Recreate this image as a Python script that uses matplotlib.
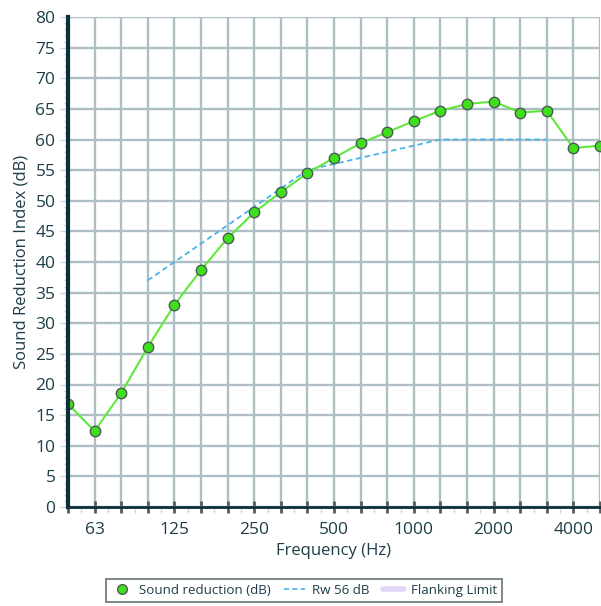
import matplotlib
matplotlib.use("Agg")
import matplotlib.pyplot as plt
from matplotlib.lines import Line2D
import numpy as np

# 1/3 octave bands
bands = [50, 63, 80, 100, 125, 160, 200, 250, 315, 400, 500, 630, 800,
         1000, 1250, 1600, 2000, 2500, 3150, 4000, 5000]
sound_reduction = [16.8, 12.4, 18.6, 26.1, 33.0, 38.7, 43.9, 48.1, 51.4, 54.5,
                   57.0, 59.4, 61.2, 63.0, 64.7, 65.8, 66.2, 64.4, 64.7, 58.6, 59.0]
# reference curve shifted to Rw 56 (100 - 3150 Hz)
ref_bands = [100, 125, 160, 200, 250, 315, 400, 500, 630, 800, 1000, 1250,
             1600, 2000, 2500, 3150]
ref_values = [37, 40, 43, 46, 49, 52, 55, 56, 57, 58, 59, 60, 60, 60, 60, 60]
tick_labels = ["63", "125", "250", "500", "1000", "2000", "4000"]

text_col = "#1d3d48"
axis_col = "#0c2f3c"
grid_col = "#adbfc5"

plt.rcParams['font.family'] = ['Open Sans', 'DejaVu Sans']

fig = plt.figure(figsize=(6.01, 6.06), dpi=100)
ax = fig.add_axes([68 / 601, 99 / 606, 532 / 601, 490 / 606])

x = np.arange(len(bands))
ref_x = [bands.index(b) for b in ref_bands]

ax.plot(ref_x, ref_values, color="#45b4ec", linestyle=(0, (3, 2)), linewidth=1.3, zorder=3)
ax.plot(x, sound_reduction, color="#5ee83a", linewidth=1.5, zorder=4,
        marker="o", markersize=7.5, markerfacecolor="#3ee01c",
        markeredgecolor="#4b5a55", markeredgewidth=1.0)

ax.set_xlim(0, len(bands) - 1)
ax.set_ylim(0, 80)
ax.set_yticks(np.arange(0, 81, 5))
ax.set_yticks(np.arange(0, 81, 1), minor=True)
ax.set_xticks(x)
ax.set_xticks(np.arange(0.5, len(bands) - 1, 1), minor=True)
ax.set_xticklabels([str(b) if str(b) in tick_labels else "" for b in bands])

ax.grid(True, which="major", color=grid_col, linewidth=1.7, zorder=1)
ax.set_axisbelow(True)

ax.tick_params(axis="x", which="major", direction="inout", length=9, width=2,
               color="#555c5e", labelsize=12.5, labelcolor=text_col, pad=6)
ax.tick_params(axis="x", which="minor", direction="out", length=4, width=1, color="#cfd6d8")
ax.tick_params(axis="y", which="major", direction="out", length=6, width=1,
               color="#cfd6d8", labelsize=12.5, labelcolor=text_col, pad=3)
ax.tick_params(axis="y", which="minor", direction="out", length=3, width=1, color="#cfd6d8")

for side in ["top", "right"]:
    ax.spines[side].set_visible(False)
ax.spines["left"].set_color(axis_col)
ax.spines["left"].set_linewidth(3)
ax.spines["left"].set_zorder(5)
ax.spines["bottom"].set_color(axis_col)
ax.spines["bottom"].set_linewidth(2)
ax.spines["bottom"].set_zorder(5)

ax.set_xlabel("Frequency (Hz)", fontsize=12, color=text_col, labelpad=4)
ax.set_ylabel("Sound Reduction Index (dB)", fontsize=12, color=text_col, labelpad=4)

handles = [
    Line2D([], [], color="#5ee83a", marker="o", linestyle="none", markersize=7,
           markerfacecolor="#3ee01c", markeredgecolor="#4b5a55"),
    Line2D([], [], color="#45b4ec", linestyle=(0, (3, 2)), linewidth=1.2),
    Line2D([], [], color="#e2d6f8", linewidth=4, solid_capstyle="round"),
]
leg = fig.legend(handles, ["Sound reduction (dB)", "Rw 56 dB", "Flanking Limit"],
                 loc="lower center", bbox_to_anchor=(304 / 601, -0.004), ncol=3,
                 fontsize=9.6, frameon=True, fancybox=False, handlelength=1.6,
                 handletextpad=0.5, columnspacing=1.0, borderpad=0.35,
                 labelcolor=text_col)
leg.get_frame().set_edgecolor("#3c5157")
leg.get_frame().set_linewidth(1.2)

fig.savefig("out.png", dpi=100)
